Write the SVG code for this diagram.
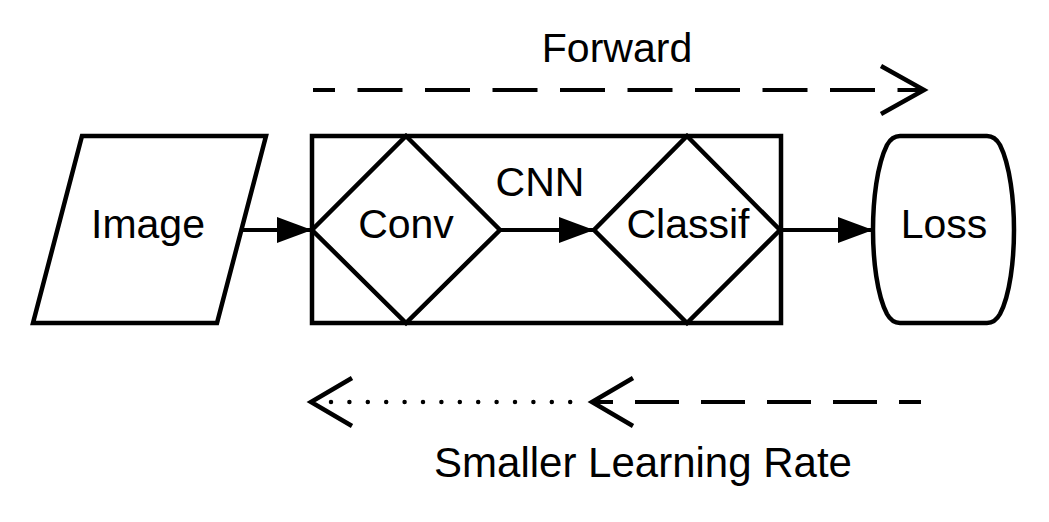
<svg xmlns="http://www.w3.org/2000/svg" width="1049" height="522" viewBox="0 0 1049 522">
<style>
.shape{fill:#fff;stroke:#000;stroke-width:4.5;stroke-linejoin:miter}
.lbl{font-family:"Liberation Sans",Arial,sans-serif;font-size:41px;fill:#000;text-anchor:middle}
.edge{fill:none;stroke:#000;stroke-width:4}
.open{fill:none;stroke:#000;stroke-width:4.5}
</style>
<defs>
<marker id="tri" markerWidth="36" markerHeight="28" viewBox="0 0 36 28" refX="35" refY="14" orient="auto" markerUnits="userSpaceOnUse">
<path d="M0,1 L35,14 L0,27 Z" fill="#000"/>
</marker>
</defs>
<rect width="1049" height="522" fill="#fff"/>
<g id="image">
<polygon class="shape" points="82,136 266,136 217,323 33,323"/>
<text class="lbl" x="148" y="238">Image</text>
</g>
<g id="cnn">
<rect class="shape" x="312" y="136" width="469" height="187"/>
<text class="lbl" x="540" y="196">CNN</text>
</g>
<g id="conv">
<polygon class="shape" points="406,136 500,230 406,323 312,230"/>
<text class="lbl" x="406" y="238">Conv</text>
</g>
<g id="classif">
<polygon class="shape" points="687,136 780,230 687,323 594,230"/>
<text class="lbl" x="688" y="238">Classif</text>
</g>
<g id="loss">
<path class="shape" d="M900,136 L987,136 Q995,136 1000,145 C1010,165 1014,200 1014,230 C1014,260 1010,295 1000,314 Q995,323 987,323 L900,323 Q892,323 887,314 C877,295 873,260 873,230 C873,200 877,165 887,145 Q892,136 900,136 Z"/>
<text class="lbl" x="944" y="238">Loss</text>
</g>
<g id="connectors">
<line class="edge" x1="243" y1="230" x2="312" y2="230" marker-end="url(#tri)"/>
<line class="edge" x1="500" y1="230" x2="594" y2="230" marker-end="url(#tri)"/>
<line class="edge" x1="781" y1="230" x2="873" y2="230" marker-end="url(#tri)"/>
<line class="edge" x1="313" y1="90" x2="921" y2="90" stroke-dasharray="45 22.5" stroke-dashoffset="23"/>
<polyline class="open" points="881,66 924,90 881,114"/>
<line class="edge" x1="921" y1="402" x2="593" y2="402" stroke-dasharray="44 22" stroke-dashoffset="22"/>
<polyline class="open" points="633,378 592,402 633,426"/>
<line x1="331" y1="402" x2="571" y2="402" stroke="#000" stroke-width="4.5" stroke-linecap="round" stroke-dasharray="0 18.4"/>
<polyline class="open" points="352,378 311,402 352,426"/>
</g>
<g id="labels">
<text class="lbl" x="617" y="62">Forward</text>
<text class="lbl" x="643" y="477" style="font-size:42px">Smaller Learning Rate</text>
</g>
</svg>
